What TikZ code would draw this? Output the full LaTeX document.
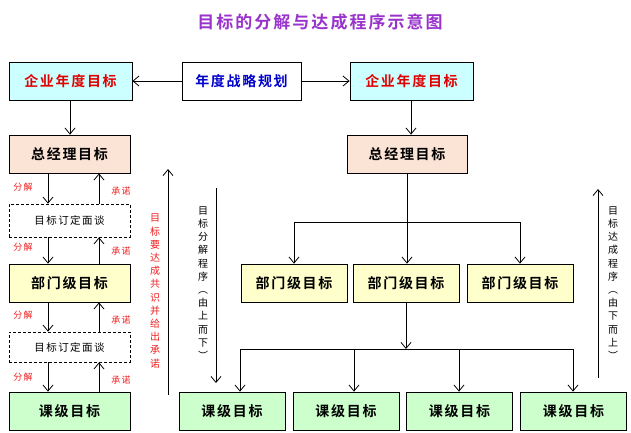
\documentclass[tikz,border=0pt]{standalone}
\usepackage{fontspec}
\newfontfamily\cjkb[LetterSpace=12]{Noto Sans CJK SC Bold}
\newfontfamily\cjk[LetterSpace=14]{Noto Sans CJK SC}
\newfontfamily\cjkv{Noto Sans CJK SC}
\usetikzlibrary{arrows.meta,calc}
\definecolor{cyanf}{HTML}{CCFFFF}
\definecolor{peachf}{HTML}{FBE3D6}
\definecolor{yellowf}{HTML}{FFFFCC}
\definecolor{greenf}{HTML}{CCFFCC}
\definecolor{redt}{HTML}{E00000}
\definecolor{bluet}{HTML}{0000CC}
\definecolor{purplet}{HTML}{9933CC}
\definecolor{labred}{HTML}{F02020}
\tikzset{
  box/.style={draw=black,line width=0.8pt,minimum height=38pt,inner sep=0pt,font=\cjkb\fontsize{14}{14}\selectfont},
  topbox/.style={box,fill=cyanf,minimum width=123pt,text=redt},
  gmbox/.style={box,fill=peachf},
  dpbox/.style={box,fill=yellowf,minimum width=106pt},
  sectbox/.style={box,fill=greenf,minimum width=106pt},
  talkbox/.style={draw=black,line width=0.7pt,dash pattern=on 3pt off 2pt,minimum width=121pt,inner sep=0pt,font=\cjk\fontsize{10.5}{10.5}\selectfont},
  arr/.style={-{Straight Barb[length=6pt,width=10pt]},line width=0.8pt},
  ln/.style={line width=0.8pt},
  lab/.style={text=labred,font=\cjk\fontsize{9}{9}\selectfont,inner sep=0pt},
  vtxt/.style={align=center,inner sep=0pt,font=\cjkv\fontsize{10}{13.2}\selectfont},
}
\begin{document}
\begin{tikzpicture}[x=1pt,y=-1pt]
\useasboundingbox (0,0) rectangle (631,432);
\fill[white] (0,0) rectangle (631,432);
% title
\node[text=purplet,font=\cjkb\fontsize{17}{17}\selectfont,inner sep=0pt] (title) at (320,22) {目标的分解与达成程序示意图};
% top row
\node[topbox] (ceL) at (70.5,81) {企业年度目标};
\node[box,fill=white,minimum width=119pt,text=bluet] (plan) at (241.5,81) {年度战略规划};
\node[topbox] (ceR) at (411.5,81) {企业年度目标};
\draw[arr] (plan.west) -- (ceL.east) ;
\draw[arr] (plan.east) -- (ceR.west);
% left column
\node[gmbox,minimum width=121pt] (gmL) at (69.5,154) {总经理目标};
\node[talkbox,minimum height=33pt] (t1) at (69.5,220.5) {目标订定面谈};
\node[box,fill=yellowf,minimum width=121pt] (dpL) at (69.5,283) {部门级目标};
\node[talkbox,minimum height=30pt] (t2) at (69.5,347) {目标订定面谈};
\node[sectbox,minimum width=121pt] (scL) at (69.5,411) {课级目标};
\coordinate (xd) at (48,0);
\coordinate (xu) at (99,0);
\coordinate (xc) at (70,0);
\draw[arr] (ceL.south -| xc) -- (gmL.north -| xc);
\draw[arr] (gmL.south -| xd) -- (t1.north -| xd);
\draw[arr] (t1.north -| xu) -- (gmL.south -| xu);
\draw[arr] (t1.south -| xd) -- (dpL.north -| xd);
\draw[arr] (dpL.north -| xu) -- (t1.south -| xu);
\draw[arr] (dpL.south -| xd) -- (t2.north -| xd);
\draw[arr] (t2.north -| xu) -- (dpL.south -| xu);
\draw[arr] (t2.south -| xd) -- (scL.north -| xd);
\draw[arr] (scL.north -| xu) -- (t2.south -| xu);
\node[lab] (f1) at (23,187) {分解};
\node[lab] (c1) at (121,191) {承诺};
\node[lab] (f2) at (23,247) {分解};
\node[lab] (c2) at (121,251) {承诺};
\node[lab] (f3) at (23,315) {分解};
\node[lab] (c3) at (121,320) {承诺};
\node[lab] (f4) at (23,377) {分解};
\node[lab] (c4) at (121,380) {承诺};
% big vertical arrows
\coordinate (u1a) at (168,395);
\coordinate (u1b) at (168,169);
\draw[arr] (u1a) -- (u1b);
\node[vtxt,text=labred] (v1) at (155,291) {目\\标\\要\\达\\成\\共\\识\\并\\给\\出\\承\\诺};
\coordinate (d1a) at (216,188);
\coordinate (d1b) at (216,383);
\draw[arr] (d1a) -- (d1b);
\node[vtxt] (v2) at (203,283) {目\\标\\分\\解\\程\\序\\︵\\由\\上\\而\\下\\︶};
\coordinate (u2a) at (598,378);
\coordinate (u2b) at (598,189);
\draw[arr] (u2a) -- (u2b);
\node[vtxt] (v3) at (613,283) {目\\标\\达\\成\\程\\序\\︵\\由\\下\\而\\上\\︶};
% right tree
\node[gmbox,minimum width=120pt] (gmR) at (407,154) {总经理目标};
\node[dpbox] (dR1) at (294,283) {部门级目标};
\node[dpbox] (dR2) at (406,283) {部门级目标};
\node[dpbox] (dR3) at (520,283) {部门级目标};
\node[sectbox] (sR1) at (232,411) {课级目标};
\node[sectbox] (sR2) at (346,411) {课级目标};
\node[sectbox] (sR3) at (459.5,411) {课级目标};
\node[sectbox] (sR4) at (573.5,411) {课级目标};
\coordinate (xR) at (411,0);
\draw[arr] (ceR.south -| xR) -- (gmR.north -| xR);
\coordinate (bm) at (407,222);
\coordinate (bl) at (294,222);
\coordinate (br) at (520,222);
\draw[ln] (gmR.south) -- (bm);
\draw[ln] (bl) -- (br);
\draw[arr] (bl) -- (dR1.north);
\draw[arr] (bm) -- (dR2.north -| bm);
\draw[arr] (br) -- (dR3.north);
\coordinate (hm) at (406,349);
\coordinate (h1) at (240,349);
\coordinate (h2) at (354,349);
\coordinate (h3) at (459,349);
\coordinate (h4) at (573,349);
\draw[arr] (dR2.south) -- (hm);
\draw[ln] (h1) -- (h4);
\draw[arr] (h1) -- (sR1.north -| h1);
\draw[arr] (h2) -- (sR2.north -| h2);
\draw[arr] (h3) -- (sR3.north -| h3);
\draw[arr] (h4) -- (sR4.north -| h4);
\end{tikzpicture}
\end{document}
